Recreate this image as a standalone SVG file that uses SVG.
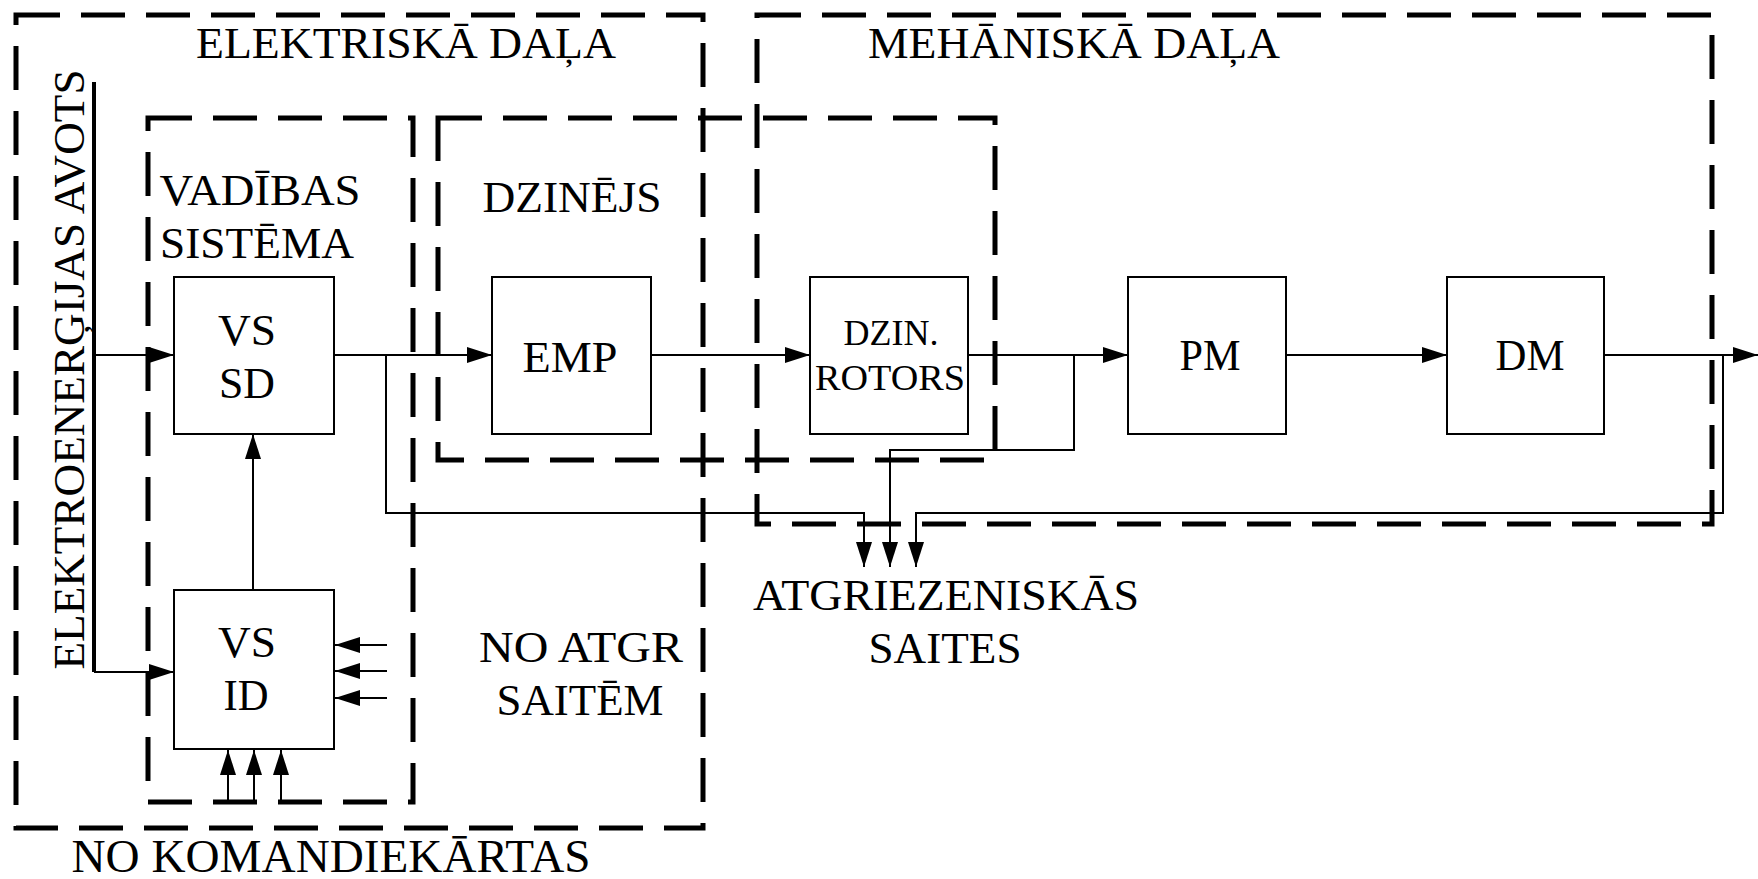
<svg xmlns="http://www.w3.org/2000/svg" width="1758" height="879" viewBox="0 0 1758 879">
<defs>
<style>
.frame{fill:none;stroke:#000;stroke-width:5;stroke-dasharray:44 21}
.box{fill:#fff;stroke:#000;stroke-width:2}
.wire{fill:none;stroke:#000;stroke-width:2}
.arr{marker-end:url(#ah)}
text{font-family:"Liberation Serif","Times New Roman",serif;fill:#000;text-anchor:middle}
</style>
<marker id="ah" markerUnits="userSpaceOnUse" markerWidth="26" markerHeight="18" refX="25" refY="8" orient="auto">
<path d="M0,0 L25,8 L0,16 z" fill="#000"/>
</marker>
</defs>
<rect width="1758" height="879" fill="#fff"/>

<g id="frame-electric">
<path class="frame" d="M16,15 H703 V828 H16 Z"/>
<text x="406" y="58" font-size="45" textLength="420" lengthAdjust="spacingAndGlyphs">ELEKTRISKĀ DAĻA</text>
</g>
<g id="frame-mechanic">
<path class="frame" d="M757,15 H1712 V524 H757 Z"/>
<text x="1074" y="58" font-size="45" textLength="412" lengthAdjust="spacingAndGlyphs">MEHĀNISKĀ DAĻA</text>
</g>
<g id="frame-control">
<path class="frame" d="M148,118 H413 V802 H148 Z"/>
<text x="260" y="205" font-size="44" textLength="201" lengthAdjust="spacingAndGlyphs">VADĪBAS</text>
<text x="257" y="258" font-size="44" textLength="194" lengthAdjust="spacingAndGlyphs">SISTĒMA</text>
</g>
<g id="frame-motor">
<path class="frame" d="M438,118 H995 V460 H438 Z"/>
<text x="572" y="212" font-size="44" textLength="179" lengthAdjust="spacingAndGlyphs">DZINĒJS</text>
</g>

<g id="connectors">
<line x1="94" y1="82" x2="94" y2="672" stroke="#000" stroke-width="4"/>
<path class="wire arr" d="M94,355 H174"/>
<path class="wire arr" d="M94,672 H174"/>
<path class="wire arr" d="M253,590 V434"/>
<path class="wire arr" d="M334,355 H492"/>
<path class="wire arr" d="M386,355 V513 H864 V567"/>
<path class="wire arr" d="M651,355 H810"/>
<path class="wire arr" d="M968,355 H1128"/>
<path class="wire arr" d="M1074,355 V450 H890 V567"/>
<path class="wire arr" d="M1286,355 H1447"/>
<path class="wire arr" d="M1604,355 H1758"/>
<path class="wire arr" d="M1723,355 V513 H916 V567"/>
<path class="wire arr" d="M387,645 H335"/>
<path class="wire arr" d="M387,671 H335"/>
<path class="wire arr" d="M387,698 H335"/>
<path class="wire arr" d="M228,802 V750"/>
<path class="wire arr" d="M254,802 V750"/>
<path class="wire arr" d="M281,802 V750"/>
</g>

<g id="node-vs-sd">
<rect class="box" x="174" y="277" width="160" height="157"/>
<text x="247" y="345" font-size="44" textLength="58" lengthAdjust="spacingAndGlyphs">VS</text>
<text x="247" y="398" font-size="44" textLength="56" lengthAdjust="spacingAndGlyphs">SD</text>
</g>
<g id="node-vs-id">
<rect class="box" x="174" y="590" width="160" height="159"/>
<text x="247" y="657" font-size="44" textLength="58" lengthAdjust="spacingAndGlyphs">VS</text>
<text x="246" y="710" font-size="44" textLength="45" lengthAdjust="spacingAndGlyphs">ID</text>
</g>
<g id="node-emp">
<rect class="box" x="492" y="277" width="159" height="157"/>
<text x="570" y="372" font-size="44" textLength="95" lengthAdjust="spacingAndGlyphs">EMP</text>
</g>
<g id="node-rotor">
<rect class="box" x="810" y="277" width="158" height="157"/>
<text x="891" y="345" font-size="36" textLength="95" lengthAdjust="spacingAndGlyphs">DZIN.</text>
<text x="890" y="390" font-size="36" textLength="150" lengthAdjust="spacingAndGlyphs">ROTORS</text>
</g>
<g id="node-pm">
<rect class="box" x="1128" y="277" width="158" height="157"/>
<text x="1210" y="370" font-size="44" textLength="61" lengthAdjust="spacingAndGlyphs">PM</text>
</g>
<g id="node-dm">
<rect class="box" x="1447" y="277" width="157" height="157"/>
<text x="1530" y="370" font-size="44" textLength="69" lengthAdjust="spacingAndGlyphs">DM</text>
</g>

<g id="label-source">
<text transform="translate(84,369.5) rotate(-90)" font-size="45" textLength="600" lengthAdjust="spacingAndGlyphs">ELEKTROENERĢIJAS AVOTS</text>
</g>
<g id="label-feedback-in">
<text x="581" y="662" font-size="45" textLength="204" lengthAdjust="spacingAndGlyphs">NO ATGR</text>
<text x="580" y="715" font-size="45" textLength="167" lengthAdjust="spacingAndGlyphs">SAITĒM</text>
</g>
<g id="label-command">
<text x="331" y="872" font-size="46" textLength="519" lengthAdjust="spacingAndGlyphs">NO KOMANDIEKĀRTAS</text>
</g>
<g id="label-feedback">
<text x="946" y="610" font-size="45" textLength="386" lengthAdjust="spacingAndGlyphs">ATGRIEZENISKĀS</text>
<text x="945" y="663" font-size="45" textLength="153" lengthAdjust="spacingAndGlyphs">SAITES</text>
</g>
</svg>
